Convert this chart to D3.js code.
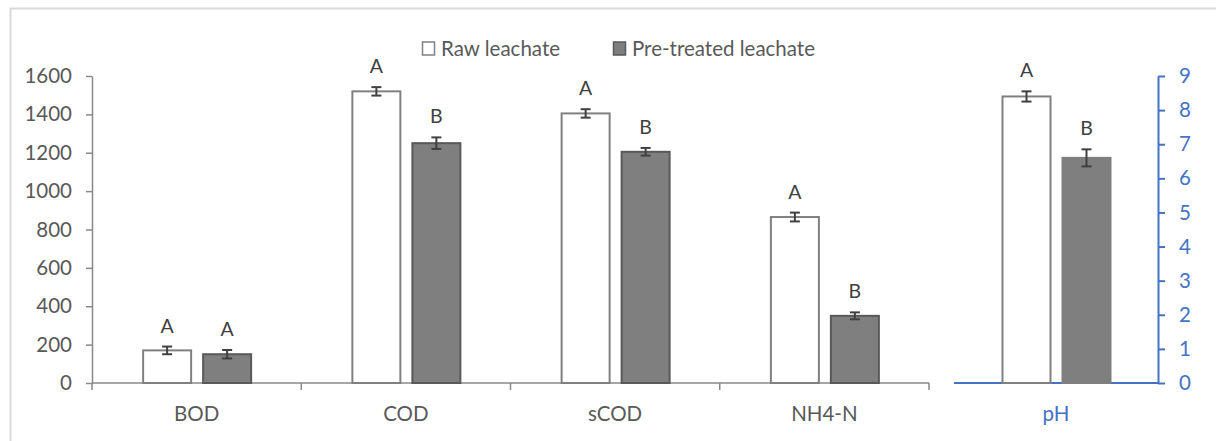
<!DOCTYPE html>
<html>
<head>
<meta charset="utf-8">
<script src="https://cdn.jsdelivr.net/npm/d3@7"></script>
<style>
  html, body { margin: 0; padding: 0; background: #fff; }
  svg { display: block; font-family: Lato, "Open Sans", sans-serif; }
</style>
</head>
<body>
<svg id="chart" width="1216" height="441"></svg>
<script>
// Leachate characteristics (mg/L on the left axis, pH on the right axis)
const categories = ["BOD", "COD", "sCOD", "NH4-N"];
const series = ["Raw leachate", "Pre-treated leachate"];
const rawValues = [170, 1520, 1405, 865];
const rawErrors = [20, 22, 22, 23];
const preValues = [150, 1250, 1205, 350];
const preErrors = [22, 30, 20, 18];
const rawLetters = ["A", "A", "A", "A"];
const preLetters = ["A", "B", "B", "B"];

const phCategory = ["pH"];
const phValues = [8.4, 6.6];
const phErrors = [0.15, 0.25];
const phLetters = ["A", "B"];

const leftTicks = [0, 200, 400, 600, 800, 1000, 1200, 1400, 1600];
const rightTicks = [0, 1, 2, 3, 4, 5, 6, 7, 8, 9];

const svg = d3.select("#chart");
const textColor = "#595959";
const axisColor = "#898989";
const blue = "#4472C4";
const rawFill = "#ffffff", rawStroke = "#808080";
const preFill = "#7f7f7f", preStroke = "#595959";
const errColor = "#404040";
const fontSize = 20.5;

// outer chart frame
svg.append("rect")
  .attr("x", 10.5).attr("y", 8.5)
  .attr("width", 1230).attr("height", 460)
  .attr("fill", "none").attr("stroke", "#d9d9d9").attr("stroke-width", 2);

const yBottom = 383, yTop = 76;
const y = d3.scaleLinear().domain([0, 1600]).range([yBottom, yTop]);
const yPh = d3.scaleLinear().domain([0, 9]).range([yBottom, yTop]);

const x = d3.scaleBand().domain(categories).range([92, 929]).padding(0);
const xPh = d3.scaleBand().domain(phCategory).range([954, 1158]).padding(0);
const inner = d3.scaleBand().domain(series).range([0, 108]).paddingInner(0.2).paddingOuter(0);

// left axis
const gLeft = svg.append("g").attr("transform", `translate(92,0)`)
  .call(d3.axisLeft(y).tickValues(leftTicks).tickFormat(d3.format("d"))
    .tickSize(6).tickPadding(14).tickSizeOuter(0));
gLeft.select(".domain").attr("stroke", axisColor).attr("stroke-width", 1.5);
gLeft.selectAll(".tick line").attr("stroke", axisColor).attr("stroke-width", 1.5);
gLeft.selectAll(".tick text").attr("fill", textColor).attr("font-size", fontSize).attr("font-family", "Lato, sans-serif");

// bottom category axis with ticks at category boundaries
const gBottom = svg.append("g").attr("transform", `translate(0,${yBottom})`);
gBottom.append("line").attr("x1", 92).attr("x2", 929).attr("y1", 0).attr("y2", 0)
  .attr("stroke", axisColor).attr("stroke-width", 1.5);
const boundaries = categories.map(c => x(c)).concat([x(categories[categories.length - 1]) + x.bandwidth()]);
gBottom.selectAll("line.tk").data(boundaries).join("line").attr("class", "tk")
  .attr("x1", d => d).attr("x2", d => d).attr("y1", 0).attr("y2", 7)
  .attr("stroke", axisColor).attr("stroke-width", 1.5);
gBottom.selectAll("text").data(categories).join("text")
  .attr("x", d => x(d) + x.bandwidth() / 2).attr("y", 38)
  .attr("text-anchor", "middle").attr("fill", textColor).attr("font-size", fontSize)
  .text(d => d);

// right pH axis
const gRight = svg.append("g").attr("transform", `translate(1158,0)`)
  .call(d3.axisRight(yPh).tickValues(rightTicks).tickSize(7).tickPadding(14).tickSizeOuter(0));
gRight.select(".domain").attr("stroke", blue).attr("stroke-width", 2);
gRight.selectAll(".tick line").attr("stroke", blue).attr("stroke-width", 2);
gRight.selectAll(".tick text").attr("fill", blue).attr("font-size", fontSize).attr("font-family", "Lato, sans-serif");

// pH bottom axis
svg.append("line").attr("x1", 954).attr("x2", 1158).attr("y1", yBottom).attr("y2", yBottom)
  .attr("stroke", blue).attr("stroke-width", 2);
svg.append("text").attr("x", xPh("pH") + xPh.bandwidth() / 2).attr("y", yBottom + 38)
  .attr("text-anchor", "middle").attr("fill", blue).attr("font-size", fontSize).text("pH");

// bar rows
const rows = [];
categories.forEach((c, i) => {
  rows.push({ cx: x(c) + x.bandwidth() / 2, s: series[0], v: rawValues[i], e: rawErrors[i], l: rawLetters[i], sc: y, fill: rawFill, stroke: rawStroke });
  rows.push({ cx: x(c) + x.bandwidth() / 2, s: series[1], v: preValues[i], e: preErrors[i], l: preLetters[i], sc: y, fill: preFill, stroke: preStroke });
});
const phCx = xPh("pH") + xPh.bandwidth() / 2;
rows.push({ cx: phCx, s: series[0], v: phValues[0], e: phErrors[0], l: phLetters[0], sc: yPh, fill: rawFill, stroke: rawStroke });
rows.push({ cx: phCx, s: series[1], v: phValues[1], e: phErrors[1], l: phLetters[1], sc: yPh, fill: preFill, stroke: preFill });

const off = -53.5;
const bars = svg.append("g");
rows.forEach(d => {
  const bx = d.cx + off + inner(d.s);
  const bw = inner.bandwidth();
  const mid = bx + bw / 2;
  bars.append("rect")
    .attr("x", bx).attr("y", d.sc(d.v))
    .attr("width", bw).attr("height", d.sc(0) - d.sc(d.v))
    .attr("fill", d.fill).attr("stroke", d.stroke).attr("stroke-width", 2);
  const yHi = d.sc(d.v + d.e), yLo = d.sc(d.v - d.e);
  bars.append("line").attr("x1", mid).attr("x2", mid).attr("y1", yHi).attr("y2", yLo)
    .attr("stroke", errColor).attr("stroke-width", 2);
  [yHi, yLo].forEach(yy => bars.append("line")
    .attr("x1", mid - 5).attr("x2", mid + 5).attr("y1", yy).attr("y2", yy)
    .attr("stroke", errColor).attr("stroke-width", 2));
  bars.append("text").attr("x", mid).attr("y", yHi - 14)
    .attr("text-anchor", "middle").attr("fill", "#404040").attr("font-size", 19.5)
    .text(d.l);
});

// legend
const legend = svg.append("g");
const legendItems = [
  { label: series[0], x: 422, fill: rawFill, stroke: rawStroke },
  { label: series[1], x: 613, fill: preFill, stroke: preStroke }
];
legendItems.forEach(it => {
  legend.append("rect").attr("x", it.x + 0.5).attr("y", 42).attr("width", 12).attr("height", 13)
    .attr("fill", it.fill).attr("stroke", it.stroke).attr("stroke-width", 1.5);
  legend.append("text").attr("x", it.x + 19).attr("y", 55.5)
    .attr("fill", textColor).attr("font-size", fontSize).text(it.label);
});
</script>
</body>
</html>
